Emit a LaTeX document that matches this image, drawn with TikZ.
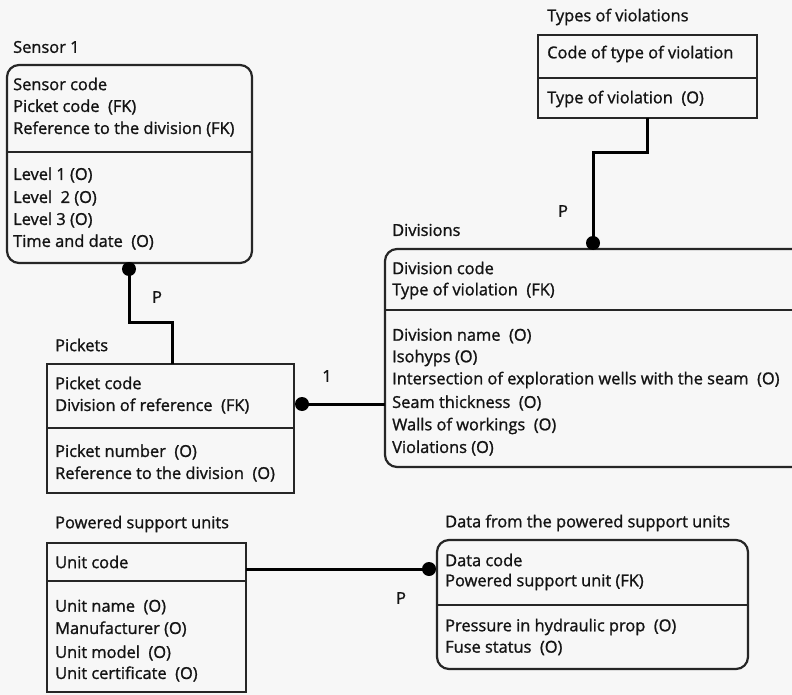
\documentclass[tikz,border=0pt]{standalone}
\usepackage{fontspec}
\setmainfont{Open Sans}[FakeBold=1.2]
\begin{document}
\begin{tikzpicture}[x=1pt,y=-1pt,
  font=\fontsize{16.4}{19}\selectfont,
  txt/.style={anchor=west,inner sep=0pt,text=black!92},
  ttl/.style={anchor=west,inner sep=0pt,text=black!92},
  entbox/.style={draw=black!85,line width=2.2pt},
  divline/.style={draw=black!85,line width=2pt},
  rel/.style={draw=black,line width=3pt},
  dotc/.style={circle,fill=black,inner sep=0pt,minimum size=14pt},
  lbl/.style={inner sep=0pt,text=black!92}]
\fill[black!3] (0,0) rectangle (792,695);
\useasboundingbox (0,0) rectangle (792,695);
\clip (0,0) rectangle (792,695);

% ---------- Sensor 1 ----------
\node[ttl] (tSensor) at (13,47) {Sensor 1};
\draw[entbox,rounded corners=12pt] (7,65) coordinate (sNW) rectangle (252,263) coordinate (sSE);
\draw[divline] (7,152) -- (252,152);
\node[txt] (s1) at (13,84) {Sensor code};
\node[txt] (s2) at (13,107) {Picket code\ \ (FK)};
\node[txt] (s3) at (13,129) {Reference to the division (FK)};
\node[txt] (s4) at (13,175) {Level 1 (O)};
\node[txt] (s5) at (13,198) {Level\ \ 2 (O)};
\node[txt] (s6) at (13,220) {Level 3 (O)};
\node[txt] (s7) at (13,242) {Time and date\ \ (O)};

% ---------- Pickets ----------
\node[ttl] (tPickets) at (55,345) {Pickets};
\draw[entbox] (47,364) rectangle (294,493);
\coordinate (picketsTop) at (172,364);
\draw[divline] (47,428) -- (294,428);
\node[txt] (p1) at (55,383) {Picket code};
\node[txt] (p2) at (55,406) {Division of reference\ \ (FK)};
\node[txt] (p3) at (55,452) {Picket number\ \ (O)};
\node[txt] (p4) at (55,474) {Reference to the division\ \ (O)};

% ---------- Types of violations ----------
\node[ttl] (tTypes) at (547,17) {Types of violations};
\draw[entbox] (538,35) rectangle (757,118);
\coordinate (typesBottom) at (647,118);
\draw[divline] (538,78) -- (757,78);
\node[txt] (v1) at (547,54) {Code of type of violation};
\node[txt] (v2) at (547,99) {Type of violation\ \ (O)};

% ---------- Divisions ----------
\node[ttl] (tDiv) at (392,230) {Divisions};
\draw[entbox,rounded corners=12pt] (385,249) rectangle (830,467);
\coordinate (divLeft) at (385,404);
\draw[divline] (385,310) -- (830,310);
\node[txt] (d1) at (392,268) {Division code};
\node[txt] (d2) at (392,291) {Type of violation\ \ (FK)};
\node[txt] (d3) at (392,336) {Division name\ \ (O)};
\node[txt] (d4) at (392,358) {Isohyps (O)};
\node[txt] (d5) at (392,380) {Intersection of exploration wells with the seam\ \ (O)};
\node[txt] (d6) at (392,403) {Seam thickness\ \ (O)};
\node[txt] (d7) at (392,426) {Walls of workings\ \ (O)};
\node[txt] (d8) at (392,448) {Violations (O)};

% ---------- Powered support units ----------
\node[ttl] (tPow) at (55,524) {Powered support units};
\draw[entbox] (47,543) rectangle (246,692);
\coordinate (powRight) at (246,569);
\draw[divline] (47,581) -- (246,581);
\node[txt] (u1) at (55,562) {Unit code};
\node[txt] (u2) at (55,607) {Unit name\ \ (O)};
\node[txt] (u3) at (55,629) {Manufacturer (O)};
\node[txt] (u4) at (55,653) {Unit model\ \ (O)};
\node[txt] (u5) at (55,674) {Unit certificate\ \ (O)};

% ---------- Data from the powered support units ----------
\node[ttl] (tData) at (445,523) {Data from the powered support units};
\draw[entbox,rounded corners=12pt] (437,540) rectangle (748,669);
\draw[divline] (437,605) -- (748,605);
\node[txt] (a1) at (445,560) {Data code};
\node[txt] (a2) at (445,582) {Powered support unit (FK)};
\node[txt] (a3) at (445,627) {Pressure in hydraulic prop\ \ (O)};
\node[txt] (a4) at (445,648) {Fuse status\ \ (O)};

% ---------- Relationships ----------
\node[dotc] (dotSensor) at (129,269) {};
\draw[rel] (dotSensor.center) |- (172,322) -- (picketsTop);
\node[lbl] (lP1) at (157,297) {P};

\node[dotc] (dotDiv) at (593,243) {};
\draw[rel] (typesBottom) |- (593,153) -- (dotDiv.center);
\node[lbl] (lP2) at (563,211) {P};

\node[dotc] (dotPick) at (302,404) {};
\draw[rel] (dotPick.center) -- (divLeft);
\node[lbl] (l1) at (327,376) {1};

\node[dotc] (dotData) at (429,569) {};
\draw[rel] (powRight) -- (dotData.center);
\node[lbl] (lP3) at (401,598) {P};
\end{tikzpicture}
\end{document}
